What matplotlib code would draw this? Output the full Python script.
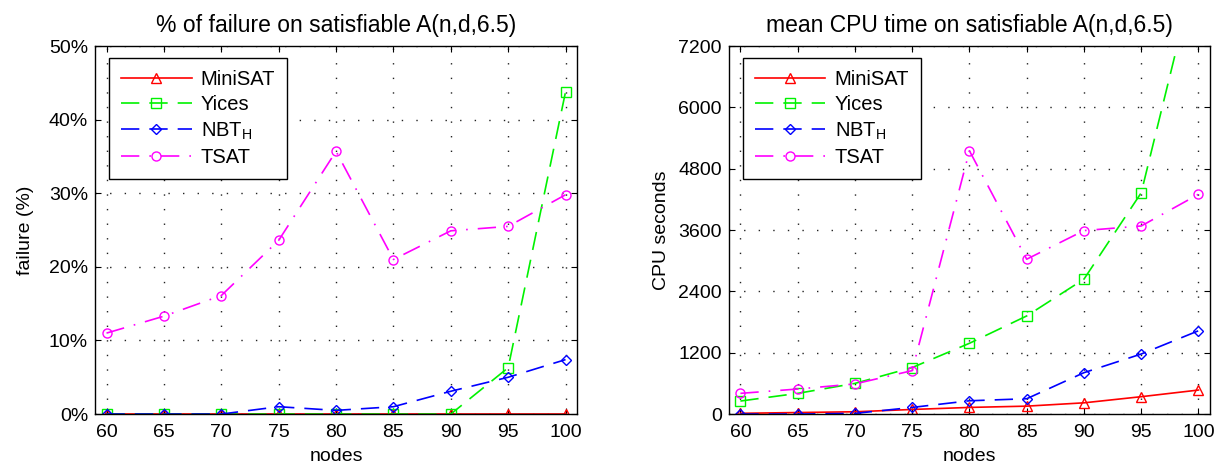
import numpy as np
import matplotlib
matplotlib.use("Agg")
import matplotlib.pyplot as plt
from matplotlib.ticker import FuncFormatter

plt.rcParams['font.family'] = ['Liberation Sans', 'DejaVu Sans']
plt.rcParams['mathtext.fontset'] = 'custom'
plt.rcParams['mathtext.rm'] = 'Liberation Sans'
plt.rcParams['mathtext.it'] = 'Liberation Sans'

# data
nodes = [60, 65, 70, 75, 80, 85, 90, 95, 100]
solvers = ['MiniSAT', 'Yices', r'NBT$_\mathrm{H}$', 'TSAT']

fail_minisat = [0, 0, 0, 0, 0, 0, 0, 0, 0]
fail_yices = [0, 0, 0, 0, 0, 0, 0, 6.3, 43.8]
fail_nbth = [0, 0, 0, 1.0, 0.5, 1.0, 3.1, 5.0, 7.4]
fail_tsat = [11.0, 13.3, 16.1, 23.6, 35.7, 21.0, 24.9, 25.5, 29.8]

cpu_minisat = [15, 30, 45, 90, 130, 155, 220, 340, 470]
cpu_yices = [255, 405, 600, 910, 1385, 1920, 2640, 4330, 8900]
cpu_nbth = [0, 0, 13, 130, 260, 300, 810, 1175, 1630]
cpu_tsat = [405, 490, 590, 850, 5150, 3030, 3590, 3680, 4300]

styles = [
    dict(color=(1, 0, 0), marker='^', dashes=()),
    dict(color=(0, 0.95, 0), marker='s', dashes=(11, 6)),
    dict(color=(0, 0, 1), marker='D', dashes=(11, 6)),
    dict(color=(1, 0, 1), marker='o', dashes=(11, 6, 1, 6)),
]


def draw(ax, series, title, ylabel, yticks, fmt, ylabelpad):
    for name, y, st in zip(solvers, series, styles):
        ms = 5 if st['marker'] == 'D' else 6.5
        kw = dict(color=st['color'], marker=st['marker'], markersize=ms,
                  markerfacecolor='none', markeredgewidth=1.0, lw=1.2,
                  label=name)
        if st['dashes']:
            kw['dashes'] = st['dashes']
        else:
            kw['ls'] = '-'
        ax.plot(nodes, y, **kw)
    ax.set_xlim(59, 101)
    ax.set_ylim(yticks[0], yticks[-1])
    ax.set_xticks(nodes)
    ax.set_yticks(yticks)
    ax.yaxis.set_major_formatter(FuncFormatter(fmt))
    ax.grid(True, color='#222222', ls=(0, (1, 9.5)), lw=1.0)
    ax.tick_params(direction='in', top=True, right=True, labelsize=14,
                   length=4, width=0.8, pad=5)
    ax.tick_params(axis='x', pad=7)
    for s in ax.spines.values():
        s.set_linewidth(1.0)
    ax.set_title(title, fontsize=16.5, pad=10)
    ax.set_xlabel('nodes', fontsize=14, labelpad=5)
    ax.set_ylabel(ylabel, fontsize=14, labelpad=ylabelpad)
    leg = ax.legend(loc='upper left', fontsize=14.5, handlelength=3.5,
                    handletextpad=0.45, fancybox=False, framealpha=1,
                    edgecolor='black', borderpad=0.6, labelspacing=0.3,
                    borderaxespad=0, bbox_to_anchor=(0.029, 0.967))
    leg.get_frame().set_linewidth(1.0)


def main():
    fig = plt.figure(figsize=(12.28, 4.70), dpi=100)
    ax1 = fig.add_axes([0.0774, 0.119, 0.3925, 0.783])
    ax2 = fig.add_axes([0.5936, 0.119, 0.3917, 0.783])

    draw(ax1, [fail_minisat, fail_yices, fail_nbth, fail_tsat],
         '% of failure on satisfiable A(n,d,6.5)', 'failure (%)',
         [0, 10, 20, 30, 40, 50], lambda v, p: '%d%%' % v, 11)
    draw(ax2, [cpu_minisat, cpu_yices, cpu_nbth, cpu_tsat],
         'mean CPU time on satisfiable A(n,d,6.5)', 'CPU seconds',
         [0, 1200, 2400, 3600, 4800, 6000, 7200], lambda v, p: '%d' % v, 6)

    fig.savefig('out.png', dpi=100)


if __name__ == "__main__":
    main()
